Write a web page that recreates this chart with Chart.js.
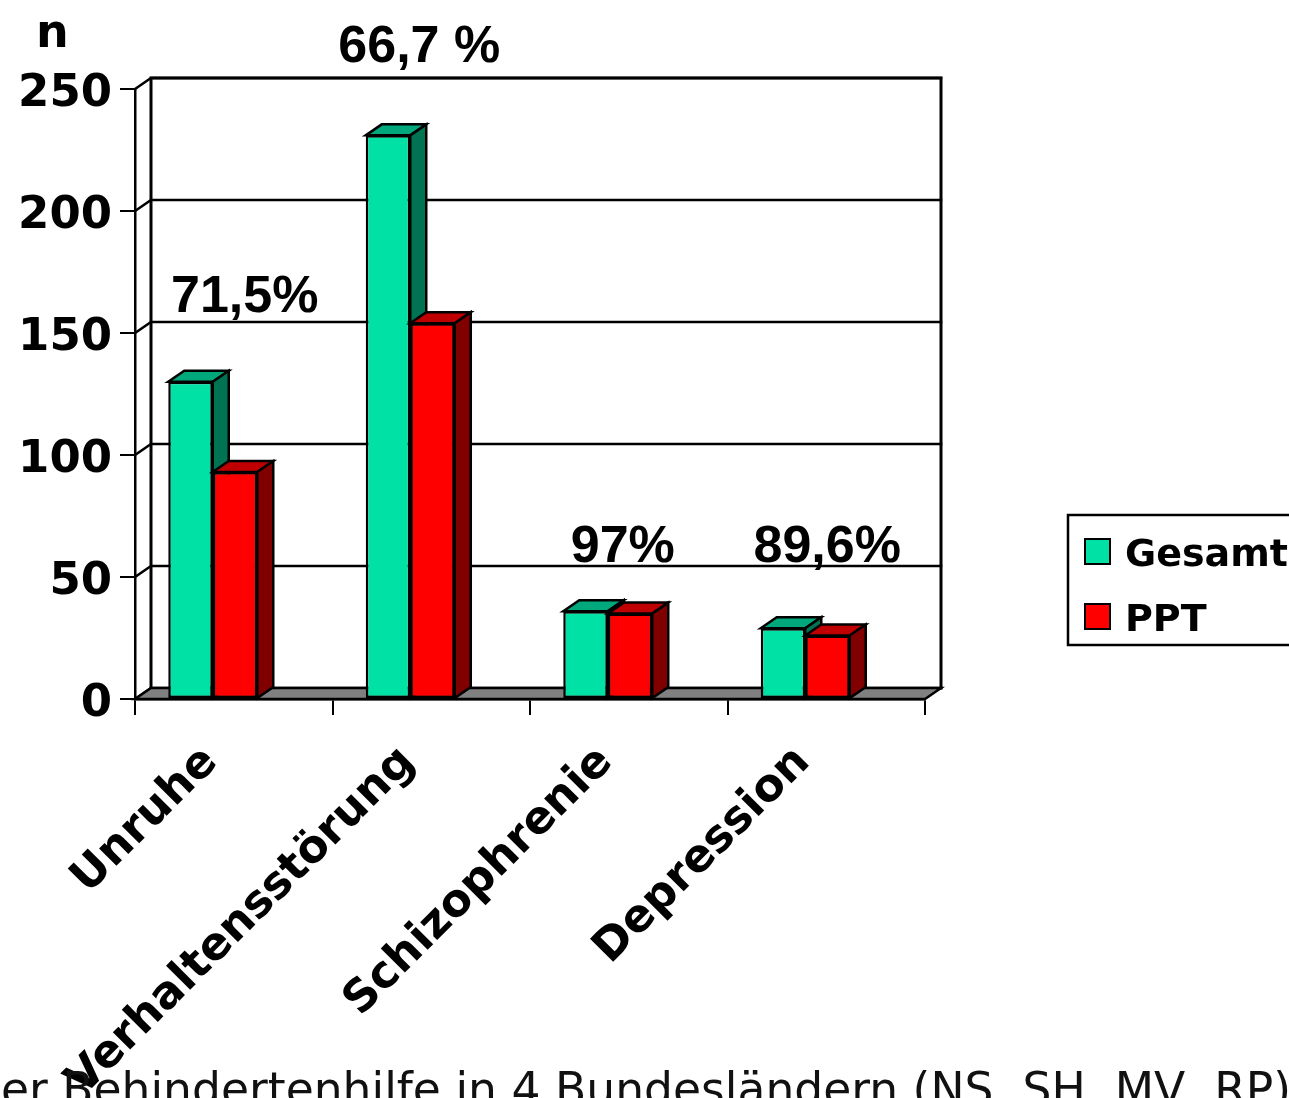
<!DOCTYPE html>
<html>
<head>
<meta charset="utf-8">
<script src="https://cdn.jsdelivr.net/npm/chart.js@4.4.1/dist/chart.umd.min.js"></script>
<style>
  html, body { margin: 0; padding: 0; background: #ffffff; overflow: hidden; }
  #wrap { position: relative; width: 1289px; height: 1098px; }
</style>
</head>
<body>
<div id="wrap"><canvas id="c" width="1289" height="1098"></canvas></div>
<script>
// ---- data ----
const categories = ['Unruhe', 'Verhaltensstörung', 'Schizophrenie', 'Depression'];
const gesamt = [130, 231, 36, 29];
const ppt = [93, 154, 35, 26];
const shareLabels = ['71,5%', '66,7 %', '97%', '89,6%'];
const yTicks = [0, 50, 100, 150, 200, 250];
const seriesNames = ['Gesamt', 'PPT'];
const axisTitle = 'n';
const footnote = 'der Behindertenhilfe in 4 Bundesländern (NS, SH, MV, RP)';

// ---- look ----
const DEPTH_X = 16, DEPTH_Y = -11;      // oblique depth of the 3D box
const BAR_SHIFT = -21;                  // clusters sit left of the category centre
const faces = [
  { front: '#00E1A5', top: '#00A87C', side: '#007352' },
  { front: '#FF0000', top: '#C00000', side: '#800000' }
];
const boldFont = '"DejaVu Sans", sans-serif';
const arialFont = '"Liberation Sans", Arial, sans-serif';

function drawTopAndSide(ctx, el, f) {
  const L = el.x - el.width / 2, R = el.x + el.width / 2;
  const T = el.y, B = el.base;
  ctx.fillStyle = f.top;
  ctx.beginPath();
  ctx.moveTo(L, T); ctx.lineTo(R, T);
  ctx.lineTo(R + DEPTH_X, T + DEPTH_Y); ctx.lineTo(L + DEPTH_X, T + DEPTH_Y);
  ctx.closePath(); ctx.fill(); ctx.stroke();
  ctx.fillStyle = f.side;
  ctx.beginPath();
  ctx.moveTo(R, T); ctx.lineTo(R + DEPTH_X, T + DEPTH_Y);
  ctx.lineTo(R + DEPTH_X, B + DEPTH_Y); ctx.lineTo(R, B);
  ctx.closePath(); ctx.fill(); ctx.stroke();
}

// Back wall, left wall grid, grey floor and the 3D faces of the bars
const box3d = {
  id: 'box3d',
  afterDatasetsUpdate(chart) {
    chart.data.datasets.forEach((ds, i) => {
      chart.getDatasetMeta(i).data.forEach(el => { el.x += BAR_SHIFT; });
    });
  },
  beforeDatasetsDraw(chart) {
    const { ctx, chartArea: a, scales: { y } } = chart;
    ctx.save();
    ctx.strokeStyle = '#000';
    ctx.lineCap = 'square';
    ctx.fillStyle = '#fff';
    ctx.fillRect(a.left + DEPTH_X, a.top + DEPTH_Y, a.right - a.left, a.bottom - a.top);
    ctx.lineWidth = 2.5;
    yTicks.forEach(v => {
      const py = y.getPixelForValue(v);
      ctx.beginPath();
      ctx.moveTo(a.left, py);
      ctx.lineTo(a.left + DEPTH_X, py + DEPTH_Y);
      ctx.lineTo(a.right + DEPTH_X, py + DEPTH_Y);
      ctx.stroke();
    });
    ctx.lineWidth = 3;
    ctx.beginPath();
    ctx.moveTo(a.left + DEPTH_X, a.bottom + DEPTH_Y);
    ctx.lineTo(a.left + DEPTH_X, a.top + DEPTH_Y);
    ctx.lineTo(a.right + DEPTH_X, a.top + DEPTH_Y);
    ctx.lineTo(a.right + DEPTH_X, a.bottom + DEPTH_Y);
    ctx.stroke();
    ctx.fillStyle = '#808080';
    ctx.lineWidth = 2.5;
    ctx.beginPath();
    ctx.moveTo(a.left, a.bottom);
    ctx.lineTo(a.right, a.bottom);
    ctx.lineTo(a.right + DEPTH_X, a.bottom + DEPTH_Y);
    ctx.lineTo(a.left + DEPTH_X, a.bottom + DEPTH_Y);
    ctx.closePath();
    ctx.fill();
    ctx.stroke();
    ctx.restore();
  },
  // series are painted left to right: each bar's top/side, then the next series' front on top
  afterDatasetsDraw(chart) {
    const { ctx } = chart;
    ctx.save();
    ctx.strokeStyle = '#000';
    ctx.lineWidth = 2.5;
    ctx.lineJoin = 'miter';
    chart.data.datasets.forEach((ds, i) => {
      const meta = chart.getDatasetMeta(i);
      meta.data.forEach(el => {
        if (i > 0) el.draw(ctx);
        drawTopAndSide(ctx, el, faces[i]);
      });
    });
    ctx.restore();
  }
};

// Share labels above each cluster
const shares = {
  id: 'shares',
  afterDatasetsDraw(chart, args, opts) {
    const { ctx } = chart;
    const m0 = chart.getDatasetMeta(0).data, m1 = chart.getDatasetMeta(1).data;
    ctx.save();
    ctx.fillStyle = '#000';
    ctx.font = 'bold 52px ' + arialFont;
    ctx.textAlign = 'center';
    ctx.textBaseline = 'alphabetic';
    shareLabels.forEach((txt, i) => {
      const a = m0[i], b = m1[i];
      const cx = ((a.x - a.width / 2) + (b.x + b.width / 2)) / 2;
      const top = Math.min(a.y, b.y);
      ctx.fillText(txt, cx + opts.dx[i], top - opts.lift[i]);
    });
    ctx.restore();
  }
};

// Legend box, axis title and footnote line
const extras = {
  id: 'extras',
  afterDraw(chart, args, opts) {
    const { ctx } = chart;
    ctx.save();
    ctx.strokeStyle = '#000';
    ctx.lineWidth = 2.5;
    ctx.strokeRect(opts.legend.x, opts.legend.y, opts.legend.w, opts.legend.h);
    ctx.font = 'bold 38px ' + boldFont;
    ctx.textBaseline = 'alphabetic';
    ctx.textAlign = 'left';
    seriesNames.forEach((name, i) => {
      const sy = opts.legend.y + 24 + i * 65;
      ctx.fillStyle = faces[i].front;
      ctx.fillRect(opts.legend.x + 17, sy, 25, 25);
      ctx.lineWidth = 2;
      ctx.strokeRect(opts.legend.x + 17, sy, 25, 25);
      ctx.fillStyle = '#000';
      ctx.fillText(name, opts.legend.x + 57, sy + 27);
    });
    ctx.font = 'bold 46px ' + boldFont;
    ctx.fillText(axisTitle, 36, 47);
    ctx.font = '45.6px ' + boldFont;
    ctx.fillStyle = '#111';
    ctx.fillText(footnote, -28, 1105);
    ctx.restore();
  }
};

new Chart(document.getElementById('c'), {
  type: 'bar',
  data: {
    labels: categories,
    datasets: [
      { label: seriesNames[0], data: gesamt, backgroundColor: faces[0].front,
        borderColor: '#000', borderWidth: 2.5, borderSkipped: false },
      { label: seriesNames[1], data: ppt, backgroundColor: faces[1].front,
        borderColor: '#000', borderWidth: 2.5, borderSkipped: false }
    ]
  },
  options: {
    responsive: false,
    animation: false,
    events: [],
    layout: { padding: { top: 89, right: 364, left: 0, bottom: 0 } },
    datasets: { bar: { categoryPercentage: 0.4506, barPercentage: 1 } },
    scales: {
      x: {
        afterFit: s => { s.height = 399; },
        grid: { offset: true, drawOnChartArea: false, drawTicks: true, tickLength: 16,
                color: '#000', lineWidth: 2 },
        border: { display: true, color: '#000', width: 2.5 },
        ticks: { autoSkip: false, maxRotation: 45, minRotation: 45, labelOffset: -23, padding: 21,
                 color: '#000', font: { family: boldFont, size: 45, weight: 'bold' } }
      },
      y: {
        min: 0, max: 250,
        afterFit: s => { s.width = 135; },
        afterBuildTicks: s => { s.ticks = yTicks.map(v => ({ value: v })); },
        grid: { drawOnChartArea: false, drawTicks: true, tickLength: 15, color: '#000', lineWidth: 2 },
        border: { display: true, color: '#000', width: 2.5 },
        ticks: { padding: 8, labelOffset: 5, color: '#000',
                 font: { family: boldFont, size: 45, weight: 'bold' } }
      }
    },
    plugins: {
      legend: { display: false },
      tooltip: { enabled: false },
      shares: { dx: [32, 9, 15, 22], lift: [70, 73, 49, 66] },
      extras: { legend: { x: 1068, y: 515, w: 260, h: 130 } }
    }
  },
  plugins: [box3d, shares, extras]
});
</script>
</body>
</html>
